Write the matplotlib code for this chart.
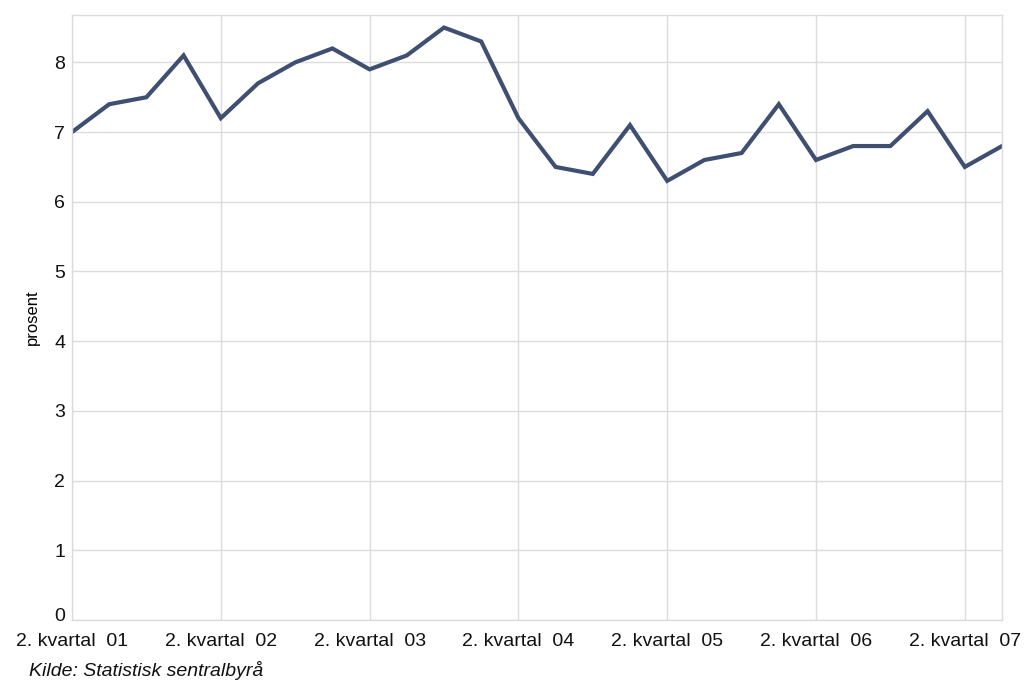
import numpy as np
import matplotlib
matplotlib.use("Agg")
from matplotlib import pyplot as plt
from matplotlib import transforms


# quarterly data, 2. kvartal 2001 -> 3. kvartal 2007
values = [7.0, 7.4, 7.5, 8.1,
          7.2, 7.7, 8.0, 8.2,
          7.9, 8.1, 8.5, 8.3,
          7.2, 6.5, 6.4, 7.1,
          6.3, 6.6, 6.7, 7.4,
          6.6, 6.8, 6.8, 7.3,
          6.5, 6.8]
tick_labels = ['2. kvartal  01', '2. kvartal  02', '2. kvartal  03',
               '2. kvartal  04', '2. kvartal  05', '2. kvartal  06',
               '2. kvartal  07']
y_ticks = [0, 1, 2, 3, 4, 5, 6, 7, 8]

plt.rcParams['font.family'] = ['Liberation Sans', 'DejaVu Sans']

fig = plt.figure(figsize=(10.26, 6.82), dpi=100)
ax = fig.add_axes([72 / 1026, 1 - 620 / 682, 930 / 1026, 605 / 682])

x = np.arange(len(values))
ax.plot(x, values, color='#3e4f72', linewidth=3.0, solid_joinstyle='miter')

ax.set_xlim(0, len(values) - 1)
ax.set_ylim(0, 8.68)
ax.set_xticks(np.arange(0, len(values), 4))
ax.set_xticklabels(tick_labels)
ax.set_yticks(y_ticks)
ax.grid(True, color='#dcdcdc', linewidth=1.0)
ax.set_axisbelow(True)
for s in ax.spines.values():
    s.set_color('#dcdcdc')
    s.set_linewidth(1.0)
ax.tick_params(length=0, labelsize=14, colors='#111111', pad=5)
ax.tick_params(axis='x', pad=9)
ax.set_ylabel('prosent', fontsize=12, labelpad=10)

# the zero label sits a little higher, as in the original
zero = ax.get_yticklabels()[0]
zero.set_transform(zero.get_transform() +
                   transforms.ScaledTranslation(0, 4 / 72, fig.dpi_scale_trans))

fig.text(29 / 1026, 1 - 670 / 682, 'Kilde: Statistisk sentralbyrå',
         fontsize=14, style='italic', va='center', ha='left', color='#111111')

fig.savefig('out.png', dpi=100)
